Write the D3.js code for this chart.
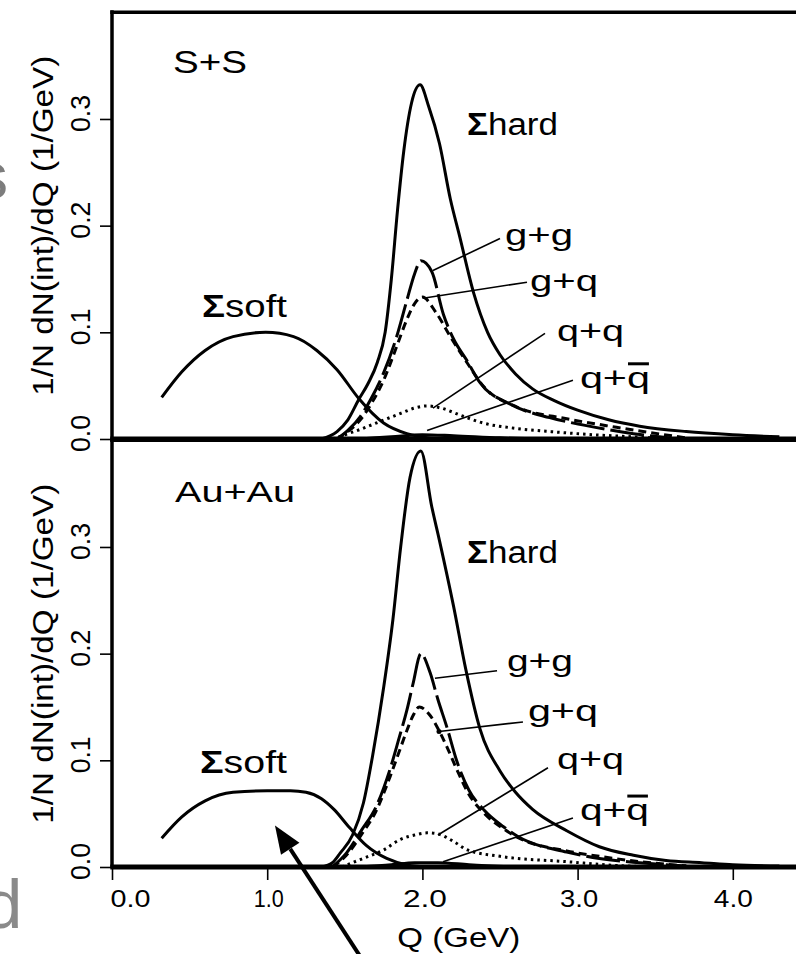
<!DOCTYPE html>
<html>
<head>
<meta charset="utf-8">
<script src="https://cdn.jsdelivr.net/npm/d3@7"></script>
<style>
  html, body { margin: 0; padding: 0; background: #fff; }
  svg { display: block; }
  text { font-family: "Liberation Sans", Arial, Helvetica, sans-serif; fill: #000; }
</style>
</head>
<body>
<svg id="chart" width="796" height="954"></svg>
<script>
// ---------------------------------------------------------------
// Data: invariant-mass spectra 1/N dN(int)/dQ versus Q (GeV)
// ---------------------------------------------------------------
const qTicks = [0, 1, 2, 3, 4];
const valueTicks = [0, 0.1, 0.2, 0.3];
const panelNames = ["S+S", "Au+Au"];
const softLabel = "soft";
const hardLabel = "hard";
const channelNames = ["g+g", "g+q", "q+q", "q+q\u0304"];
const axisTitleY = "1/N dN(int)/dQ (1/GeV)";
const axisTitleX = "Q (GeV)";

// S+S
const ssSoftQ = [0.32, 0.45, 0.6, 0.78, 0.99, 1.17, 1.32, 1.45, 1.59, 1.75, 1.9, 2.05, 2.2];
const ssSoftV = [0.039, 0.063, 0.083, 0.096, 0.100, 0.096, 0.083, 0.065, 0.038, 0.015, 0.005, 0.001, 0.0];
const ssHardQ = [1.35, 1.45, 1.52, 1.59, 1.65, 1.71, 1.76, 1.80, 1.84, 1.88, 1.93, 1.985, 2.04, 2.11, 2.18, 2.24, 2.33, 2.42, 2.5, 2.6, 2.71, 2.85, 3.0, 3.2, 3.4, 3.7, 4.0, 4.3];
const ssHardV = [0.0, 0.007, 0.018, 0.037, 0.052, 0.072, 0.100, 0.150, 0.215, 0.270, 0.315, 0.332, 0.312, 0.277, 0.225, 0.190, 0.137, 0.100, 0.079, 0.061, 0.047, 0.036, 0.027, 0.018, 0.012, 0.007, 0.004, 0.002];
const ssGgQ = [1.45, 1.52, 1.6, 1.67, 1.75, 1.83, 1.9, 1.95, 1.99, 2.06, 2.135, 2.2, 2.285, 2.37, 2.56, 2.82, 3.04, 3.36, 3.6];
const ssGgV = [0.0, 0.008, 0.021, 0.038, 0.062, 0.094, 0.130, 0.155, 0.167, 0.157, 0.117, 0.094, 0.074, 0.053, 0.033, 0.020, 0.013, 0.005, 0.001];
const ssGqQ = [1.45, 1.52, 1.6, 1.67, 1.75, 1.83, 1.9, 1.95, 2.0, 2.09, 2.18, 2.29, 2.39, 2.61, 2.93, 3.25, 3.47, 3.75];
const ssGqV = [0.0, 0.007, 0.018, 0.033, 0.055, 0.085, 0.112, 0.127, 0.133, 0.118, 0.096, 0.071, 0.050, 0.030, 0.019, 0.011, 0.006, 0.0];
const ssQqQ = [1.42, 1.5, 1.6, 1.72, 1.86, 1.95, 2.03, 2.12, 2.25, 2.39, 2.6, 2.82, 3.1, 3.36, 3.6];
const ssQqV = [0.0, 0.004, 0.009, 0.016, 0.024, 0.029, 0.031, 0.029, 0.022, 0.015, 0.010, 0.007, 0.004, 0.002, 0.0];
const ssQqbarQ = [1.6, 1.8, 2.0, 2.2, 2.5, 2.8];
const ssQqbarV = [0.0, 0.002, 0.004, 0.003, 0.001, 0.0];

// Au+Au
const auSoftQ = [0.32, 0.45, 0.6, 0.78, 1.0, 1.15, 1.25, 1.35, 1.43, 1.53, 1.64, 1.77, 1.9, 2.05];
const auSoftV = [0.027, 0.047, 0.062, 0.070, 0.0715, 0.0715, 0.070, 0.064, 0.054, 0.037, 0.020, 0.008, 0.002, 0.0];
const auHardQ = [1.35, 1.42, 1.47, 1.55, 1.62, 1.68, 1.75, 1.81, 1.86, 1.92, 1.99, 2.06, 2.11, 2.2, 2.28, 2.37, 2.5, 2.6, 2.71, 2.93, 3.14, 3.36, 3.57, 3.8, 4.0, 4.3];
const auHardV = [0.0, 0.004, 0.013, 0.030, 0.060, 0.105, 0.168, 0.232, 0.300, 0.365, 0.390, 0.338, 0.306, 0.245, 0.185, 0.130, 0.090, 0.070, 0.054, 0.034, 0.019, 0.011, 0.006, 0.004, 0.002, 0.001];
const auGgQ = [1.42, 1.51, 1.61, 1.70, 1.79, 1.85, 1.9, 1.94, 1.99, 2.05, 2.10, 2.16, 2.22, 2.3, 2.4, 2.52, 2.61, 2.93, 3.14, 3.4, 3.7];
const auGgV = [0.0, 0.013, 0.035, 0.056, 0.091, 0.121, 0.147, 0.172, 0.200, 0.182, 0.157, 0.130, 0.100, 0.072, 0.053, 0.038, 0.029, 0.014, 0.008, 0.004, 0.001];
const auGqQ = [1.42, 1.51, 1.61, 1.70, 1.79, 1.85, 1.9, 1.94, 1.98, 2.05, 2.11, 2.16, 2.22, 2.3, 2.4, 2.52, 2.61, 2.93, 3.14, 3.4, 3.7];
const auGqV = [0.0, 0.011, 0.031, 0.052, 0.084, 0.108, 0.128, 0.142, 0.150, 0.142, 0.127, 0.112, 0.092, 0.068, 0.050, 0.036, 0.028, 0.015, 0.010, 0.005, 0.001];
const auQqQ = [1.48, 1.6, 1.75, 1.86, 1.95, 2.03, 2.1, 2.2, 2.29, 2.5, 2.93, 3.3, 3.5];
const auQqV = [0.0, 0.007, 0.016, 0.026, 0.030, 0.032, 0.031, 0.024, 0.016, 0.010, 0.005, 0.001, 0.0];
const auQqbarQ = [1.6, 1.8, 1.95, 2.1, 2.3, 2.6];
const auQqbarV = [0.0, 0.002, 0.004, 0.004, 0.002, 0.0];

// ---------------------------------------------------------------
// Layout and styling
// ---------------------------------------------------------------
const W = 796, H = 954;
const svg = d3.select("#chart");
const x = d3.scaleLinear().domain([0, 4.5]).range([112, 810.4]);
const FONT = '"Liberation Sans", Arial, Helvetica, sans-serif';

const seriesStyle = {
  soft:  { width: 3.0, dash: null },
  hard:  { width: 3.0, dash: null },
  gg:    { width: 3.0, dash: "34,6" },
  gq:    { width: 3.0, dash: "8,5" },
  qq:    { width: 3.0, dash: "2.5,4" },
  qqbar: { width: 3.2, dash: null }
};

const panels = [
  {
    name: panelNames[0], top: 12.3, bottom: 439,
    series: [
      ["soft", ssSoftQ, ssSoftV], ["hard", ssHardQ, ssHardV],
      ["qq", ssQqQ, ssQqV], ["qqbar", ssQqbarQ, ssQqbarV],
      ["gq", ssGqQ, ssGqV], ["gg", ssGgQ, ssGgV]
    ],
    nameAt: { q: 0.393, v: 0.343, len: 74, fs: 32 },
    softAt: { q: 0.58, v: 0.114, len: 85 },
    hardAt: { q: 2.287, v: 0.285, len: 91 },
    channelAt: [
      { q: 2.532, v: 0.182, len: 68 }, { q: 2.693, v: 0.139, len: 68 },
      { q: 2.867, v: 0.092, len: 67 }, { q: 3.015, v: 0.048, len: 70 }
    ],
    leaders: [
      [2.50, 0.188, 2.068, 0.158], [2.674, 0.147, 2.004, 0.132],
      [2.79, 0.099, 2.068, 0.029], [2.97, 0.055, 2.03, 0.008]
    ],
    leaderDot: -1,
    xAxis: false
  },
  {
    name: panelNames[1], top: 440.3, bottom: 867,
    series: [
      ["soft", auSoftQ, auSoftV], ["hard", auHardQ, auHardV],
      ["qq", auQqQ, auQqV], ["qqbar", auQqbarQ, auQqbarV],
      ["gq", auGqQ, auGqV], ["gg", auGgQ, auGgV]
    ],
    nameAt: { q: 0.406, v: 0.342, len: 120, fs: 30 },
    softAt: { q: 0.567, v: 0.088, len: 87 },
    hardAt: { q: 2.287, v: 0.285, len: 91 },
    channelAt: [
      { q: 2.545, v: 0.184, len: 66 }, { q: 2.68, v: 0.137, len: 70 },
      { q: 2.867, v: 0.092, len: 67 }, { q: 3.015, v: 0.044, len: 69 }
    ],
    leaders: [
      [2.481, 0.184, 2.081, 0.177], [2.648, 0.136, 2.107, 0.127],
      [2.809, 0.093, 2.10, 0.030], [2.97, 0.046, 2.133, 0.005]
    ],
    leaderDot: 1,
    xAxis: true,
    arrow: { tipQ: 1.05, tipV: 0.039, tailQ: 1.60, tailV: -0.084 }
  }
];

// Fragments of neighbouring slide lettering at the left edge
svg.append("text").attr("x", -24).attr("y", 198)
  .attr("font-size", 64).style("fill", "#7d7d7d").text("s");
svg.append("text").attr("x", -16).attr("y", 928)
  .attr("font-size", 69).style("fill", "#8a8a8a").text("d");

function label(g, px, py, parts, len, fs) {
  const t = g.append("text").attr("x", px).attr("y", py)
    .attr("font-size", fs || 30)
    .attr("textLength", len).attr("lengthAdjust", "spacingAndGlyphs");
  parts.forEach(([s, bold]) => {
    t.append("tspan").attr("font-weight", bold ? "bold" : null).text(s);
  });
  return t;
}

panels.forEach(p => {
  const y = d3.scaleLinear().domain([0, 0.4]).range([p.bottom, p.top]);
  const g = svg.append("g");

  // curves
  const line = d3.line()
    .x(d => x(d[0])).y(d => y(d[1]))
    .curve(d3.curveMonotoneX);
  p.series.forEach(([key, qs, vs]) => {
    const st = seriesStyle[key];
    g.append("path")
      .datum(qs.map((q, i) => [q, vs[i]]))
      .attr("d", line)
      .attr("fill", "none")
      .attr("stroke", "#000")
      .attr("stroke-width", st.width)
      .attr("stroke-dasharray", st.dash)
      .attr("stroke-linejoin", "round");
  });

  // frame
  g.append("line").attr("x1", x(0)).attr("x2", x(0))
    .attr("y1", p.top - 2).attr("y2", p.bottom)
    .attr("stroke", "#000").attr("stroke-width", 3.5);
  g.append("line").attr("x1", x(0) - 1.7).attr("x2", W + 10)
    .attr("y1", p.top).attr("y2", p.top)
    .attr("stroke", "#000").attr("stroke-width", 3.5);
  g.append("line").attr("x1", x(0) - 1.7).attr("x2", W + 10)
    .attr("y1", p.bottom).attr("y2", p.bottom)
    .attr("stroke", "#000").attr("stroke-width", 5);

  // y axis ticks and rotated labels
  const yAxis = g.append("g").attr("transform", `translate(${x(0)},0)`)
    .call(d3.axisLeft(y).tickValues(valueTicks).tickSize(12).tickFormat(d3.format(".1f")));
  yAxis.select(".domain").remove();
  yAxis.selectAll(".tick line").attr("stroke", "#000").attr("stroke-width", 1.6);
  yAxis.selectAll(".tick text")
    .attr("x", null).attr("dy", null).attr("y", null)
    .attr("transform", "translate(-22,-6) rotate(-90)")
    .attr("text-anchor", "middle")
    .attr("font-size", 28)
    .attr("font-family", FONT)
    .attr("textLength", 37).attr("lengthAdjust", "spacingAndGlyphs");

  // y axis title
  g.append("text")
    .attr("transform", `translate(53,${(p.top + p.bottom) / 2}) rotate(-90)`)
    .attr("text-anchor", "middle")
    .attr("font-size", 30)
    .attr("textLength", 340).attr("lengthAdjust", "spacingAndGlyphs")
    .text(axisTitleY);

  // x axis (lower panel only)
  if (p.xAxis) {
    const tickLen = [40, 30, 44, 38, 39];
    const tickShift = [18, 1, 2, 1, 0];
    const xAxis = g.append("g").attr("transform", `translate(0,${p.bottom})`)
      .call(d3.axisBottom(x).tickValues(qTicks).tickSize(13).tickFormat(d3.format(".1f")));
    xAxis.select(".domain").remove();
    xAxis.selectAll(".tick line").attr("stroke", "#000").attr("stroke-width", 1.6);
    xAxis.selectAll(".tick text")
      .attr("y", 40).attr("dy", null)
      .attr("x", (d, i) => tickShift[i])
      .attr("text-anchor", "middle")
      .attr("font-size", 24)
      .attr("font-family", FONT)
      .attr("textLength", (d, i) => tickLen[i]).attr("lengthAdjust", "spacingAndGlyphs");
    g.append("text")
      .attr("x", x(2.235)).attr("y", p.bottom + 80)
      .attr("text-anchor", "middle")
      .attr("font-size", 28)
      .attr("textLength", 123).attr("lengthAdjust", "spacingAndGlyphs")
      .text(axisTitleX);
  }

  // panel name and component labels
  label(g, x(p.nameAt.q), y(p.nameAt.v), [[p.name, false]], p.nameAt.len, p.nameAt.fs);
  label(g, x(p.softAt.q), y(p.softAt.v), [["\u03A3", true], [softLabel, false]], p.softAt.len, 31);
  label(g, x(p.hardAt.q), y(p.hardAt.v), [["\u03A3", true], [hardLabel, false]], p.hardAt.len, 31);

  channelNames.forEach((name, i) => {
    const a = p.channelAt[i];
    const bar = name.includes("\u0304");
    const plain = name.replace("\u0304", "");
    const t = label(g, x(a.q), y(a.v), [[plain, false]], a.len, 30);
    if (bar) {
      const ext = t.node().getExtentOfChar(plain.length - 1);
      g.append("line")
        .attr("x1", ext.x + 1).attr("x2", ext.x + ext.width - 1)
        .attr("y1", y(a.v) - 24).attr("y2", y(a.v) - 24)
        .attr("stroke", "#000").attr("stroke-width", 3);
    }
    const L = p.leaders[i];
    g.append("line")
      .attr("x1", x(L[0])).attr("y1", y(L[1]))
      .attr("x2", x(L[2])).attr("y2", y(L[3]))
      .attr("stroke", "#000").attr("stroke-width", 1.6);
    if (p.leaderDot === i) {
      g.append("circle").attr("cx", x(L[2])).attr("cy", y(L[3])).attr("r", 2.5).attr("fill", "#000");
    }
  });

  // pointer arrow into the soft component
  if (p.arrow) {
    const a = p.arrow;
    const tx = x(a.tipQ), ty = y(a.tipV), sx = x(a.tailQ), sy = y(a.tailV);
    const ang = Math.atan2(ty - sy, tx - sx);
    const headLen = 28, headHalf = 11;
    const bx = tx - headLen * Math.cos(ang), by = ty - headLen * Math.sin(ang);
    g.append("line").attr("x1", sx).attr("y1", sy).attr("x2", bx).attr("y2", by)
      .attr("stroke", "#000").attr("stroke-width", 4);
    const px = -Math.sin(ang), py = Math.cos(ang);
    g.append("path")
      .attr("d", `M${tx},${ty} L${bx + headHalf * px},${by + headHalf * py} L${bx - headHalf * px},${by - headHalf * py} Z`)
      .attr("fill", "#000");
  }
});
</script>
</body>
</html>
